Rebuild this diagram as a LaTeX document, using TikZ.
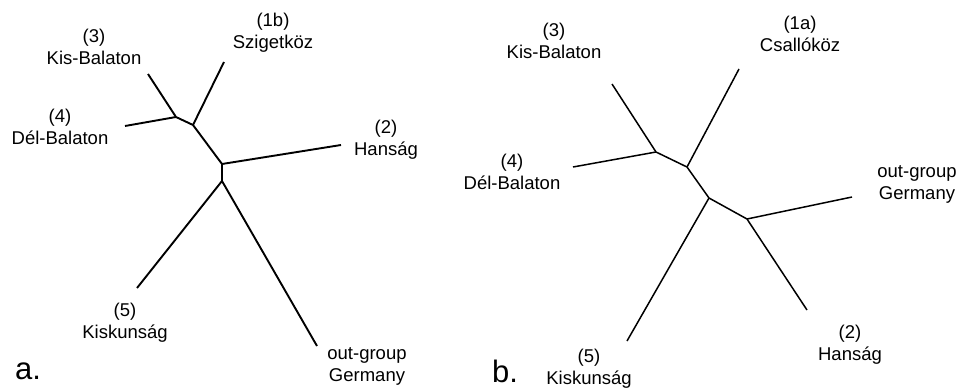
\documentclass[tikz,border=0pt]{standalone}
\usepackage{fontspec}
\setmainfont{Liberation Sans}
\usetikzlibrary{positioning}
\tikzset{lab/.style={align=center,inner sep=0pt,font=\fontsize{18.5}{22}\selectfont}}
\tikzset{panel/.style={inner sep=0pt,font=\fontsize{31}{31}\selectfont}}
\tikzset{brancha/.style={line width=1.9pt}}
\tikzset{branchb/.style={line width=1.5pt}}

\begin{document}
\begin{tikzpicture}[x=1pt,y=-1pt]

\useasboundingbox (0,0) rectangle (964,389); %% page size

%% tree a.
\coordinate (aA) at (176,117);
\coordinate (aB) at (193,125);
\coordinate (aC) at (222,164);
\coordinate (aD) at (222,181);
\coordinate (aKis) at (148,74);
\coordinate (aDel) at (125,126);
\coordinate (aSzi) at (224,62);
\coordinate (aHan) at (341,145);
\coordinate (aKsk) at (137,288);
\coordinate (aOut) at (317,346);

\draw[brancha] (aKis) -- (aA) -- (aB) -- (aC) -- (aD) -- (aKsk);
\draw[brancha] (aDel) -- (aA);
\draw[brancha] (aSzi) -- (aB);
\draw[brancha] (aC) -- (aHan);
\draw[brancha] (aD) -- (aOut);

\node[lab] (laKis) at (94,47) {(3)\\Kis-Balaton};
\node[lab] (laSzi) at (273,33) {(1b)\\Szigetköz};
\node[lab] (laDel) at (60,127) {(4)\\Dél-Balaton};
\node[lab] (laHan) at (386,140) {(2)\\Hanság};
\node[lab] (laKsk) at (125,323) {(5)\\Kiskunság};
\node[lab] (laOut) at (367,366) {out-group\\Germany};
\node[panel] (pa) at (28,371) {a.};

%% tree b.
\coordinate (bA) at (656,152);
\coordinate (bB) at (687,167);
\coordinate (bC) at (709,198);
\coordinate (bD) at (747,219);
\coordinate (bKis) at (612,84);
\coordinate (bDel) at (573,167);
\coordinate (bCsa) at (739,69);
\coordinate (bOut) at (852,197);
\coordinate (bHan) at (807,310);
\coordinate (bKsk) at (627,341);

\draw[branchb] (bKis) -- (bA) -- (bB) -- (bC) -- (bD) -- (bHan);
\draw[branchb] (bDel) -- (bA);
\draw[branchb] (bCsa) -- (bB);
\draw[branchb] (bC) -- (bKsk);
\draw[branchb] (bD) -- (bOut);

\node[lab] (lbKis) at (554,41) {(3)\\Kis-Balaton};
\node[lab] (lbCsa) at (800,34) {(1a)\\Csallóköz};
\node[lab] (lbDel) at (512,172) {(4)\\Dél-Balaton};
\node[lab] (lbOut) at (917,184) {out-group\\Germany};
\node[lab] (lbHan) at (850,345) {(2)\\Hanság};
\node[lab] (lbKsk) at (589,369) {(5)\\Kiskunság};
\node[panel] (pb) at (505,371) {b.};

\end{tikzpicture}
\end{document}
